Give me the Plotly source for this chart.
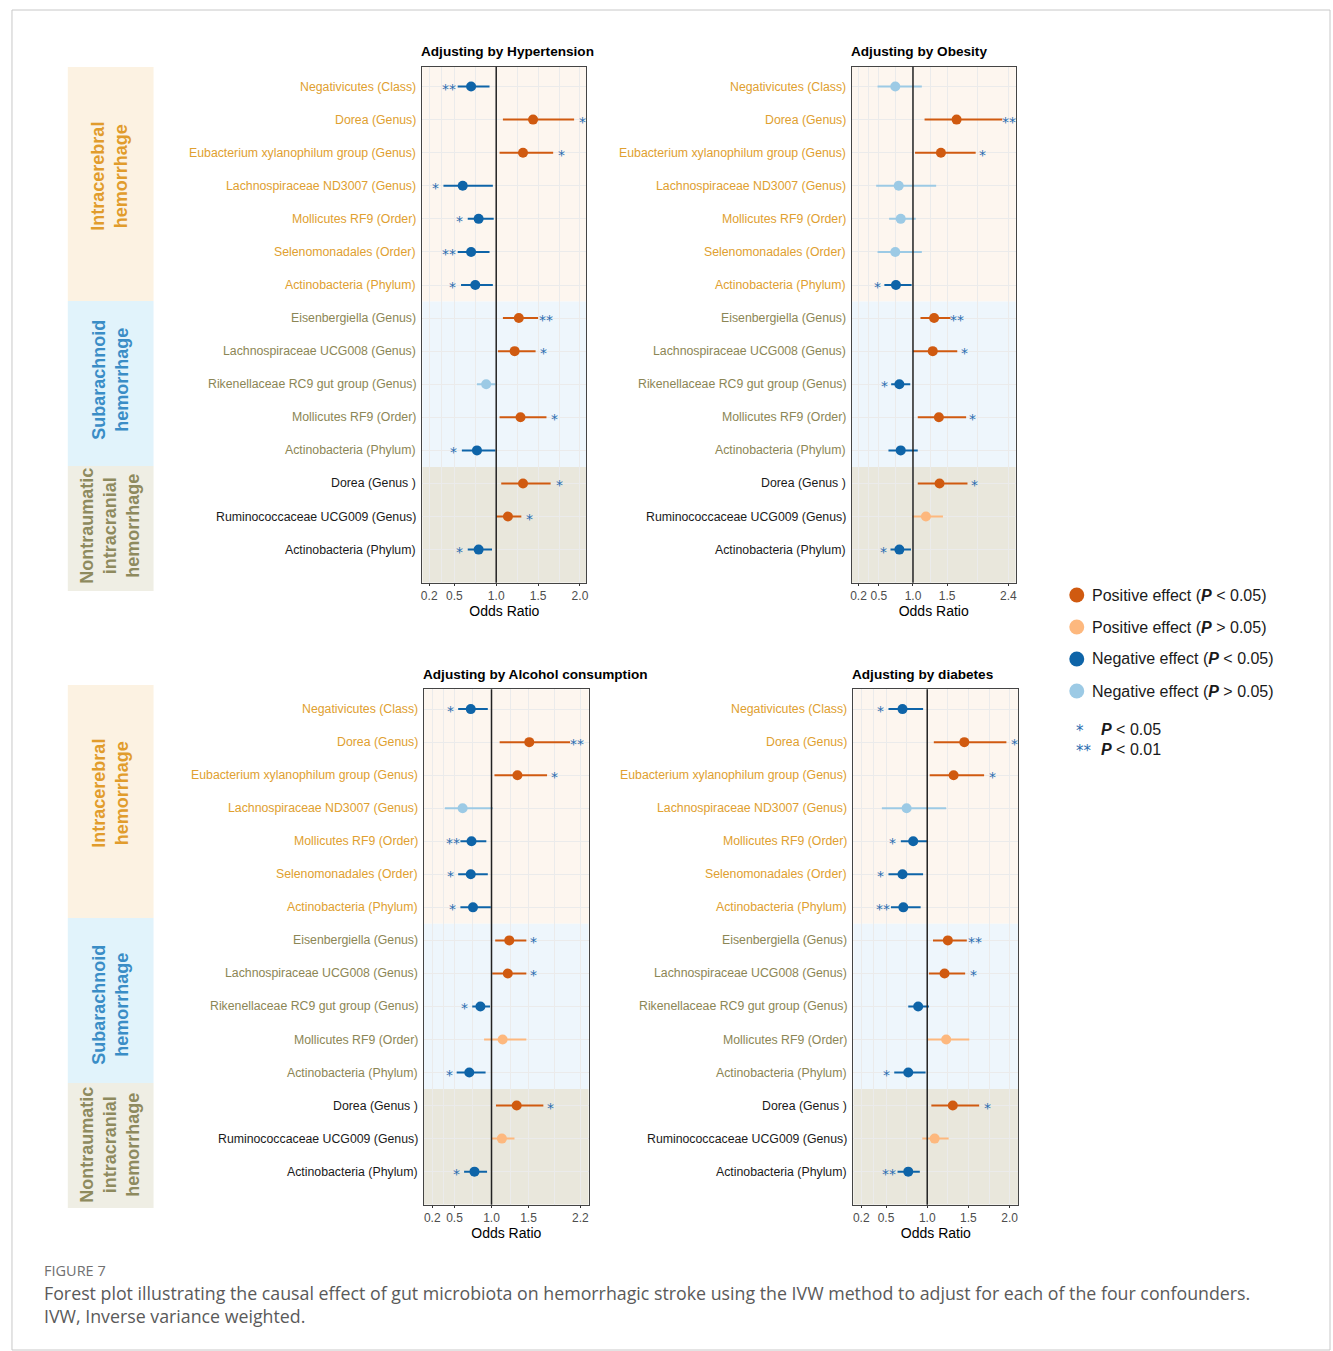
import plotly.graph_objects as go

W, H = 1333, 1351
FONT = "Liberation Sans, Arial, sans-serif"

# ---------------- data ----------------
taxa = [
    "Negativicutes (Class)", "Dorea (Genus)", "Eubacterium xylanophilum group (Genus)",
    "Lachnospiraceae ND3007 (Genus)", "Mollicutes RF9 (Order)", "Selenomonadales (Order)",
    "Actinobacteria (Phylum)",
    "Eisenbergiella (Genus)", "Lachnospiraceae UCG008 (Genus)", "Rikenellaceae RC9 gut group (Genus)",
    "Mollicutes RF9 (Order)", "Actinobacteria (Phylum)",
    "Dorea (Genus )", "Ruminococcaceae UCG009 (Genus)", "Actinobacteria (Phylum)",
]
outcome = ["ICH"] * 7 + ["SAH"] * 5 + ["NICH"] * 3
outcome_names = {
    "ICH": "Intracerebral<br>hemorrhage",
    "SAH": "Subarachnoid<br>hemorrhage",
    "NICH": "Nontraumatic<br>intracranial<br>hemorrhage",
}

hyp_or = [0.70, 1.44, 1.32, 0.60, 0.79, 0.70, 0.75, 1.27, 1.22, 0.88, 1.29, 0.77, 1.32, 1.14, 0.79]
hyp_lo = [0.54, 1.08, 1.04, 0.37, 0.66, 0.54, 0.58, 1.08, 1.02, 0.77, 1.04, 0.59, 1.06, 1.00, 0.66]
hyp_hi = [0.92, 1.93, 1.68, 0.96, 0.97, 0.92, 0.96, 1.50, 1.47, 0.99, 1.60, 0.99, 1.65, 1.30, 0.95]
hyp_stars = ["**", "*", "*", "*", "*", "**", "*", "**", "*", "", "*", "*", "*", "*", "*"]
hyp_sig = [1, 1, 1, 1, 1, 1, 1, 1, 1, 0, 1, 1, 1, 1, 1]

obe_or = [0.74, 1.64, 1.41, 0.79, 0.82, 0.74, 0.75, 1.31, 1.29, 0.80, 1.38, 0.82, 1.39, 1.19, 0.80]
obe_lo = [0.48, 1.17, 1.03, 0.46, 0.65, 0.48, 0.58, 1.11, 1.00, 0.68, 1.07, 0.64, 1.07, 0.99, 0.67]
obe_hi = [1.13, 2.31, 1.92, 1.34, 1.04, 1.13, 0.98, 1.55, 1.65, 0.96, 1.78, 1.07, 1.80, 1.44, 0.97]
obe_stars = ["", "**", "*", "", "", "", "*", "**", "*", "*", "*", "", "*", "", "*"]
obe_sig = [0, 1, 1, 0, 0, 0, 1, 1, 1, 1, 1, 1, 1, 0, 1]

alc_or = [0.72, 1.51, 1.35, 0.61, 0.73, 0.72, 0.75, 1.24, 1.22, 0.85, 1.15, 0.70, 1.34, 1.14, 0.77]
alc_lo = [0.55, 1.11, 1.04, 0.37, 0.58, 0.55, 0.58, 1.05, 1.01, 0.74, 0.90, 0.53, 1.06, 1.00, 0.63]
alc_hi = [0.95, 2.06, 1.75, 1.02, 0.93, 0.95, 0.99, 1.47, 1.47, 0.98, 1.47, 0.92, 1.70, 1.31, 0.94]
alc_stars = ["*", "**", "*", "", "**", "*", "*", "*", "*", "*", "", "*", "*", "", "*"]
alc_sig = [1, 1, 1, 0, 1, 1, 1, 1, 1, 1, 0, 1, 1, 0, 1]

dia_or = [0.70, 1.45, 1.32, 0.75, 0.83, 0.70, 0.71, 1.25, 1.21, 0.89, 1.23, 0.77, 1.31, 1.09, 0.77]
dia_lo = [0.53, 1.08, 1.03, 0.45, 0.68, 0.53, 0.56, 1.07, 1.02, 0.77, 1.00, 0.60, 1.05, 0.94, 0.64]
dia_hi = [0.95, 1.96, 1.69, 1.23, 1.00, 0.95, 0.92, 1.48, 1.46, 1.02, 1.51, 0.98, 1.63, 1.26, 0.91]
dia_stars = ["*", "*", "*", "", "*", "*", "**", "**", "*", "", "", "*", "*", "", "**"]
dia_sig = [1, 1, 1, 0, 1, 1, 1, 1, 1, 1, 0, 1, 1, 0, 1]

panels = [
    dict(title="Adjusting by Hypertension", orv=hyp_or, lo=hyp_lo, hi=hyp_hi, stars=hyp_stars, sig=hyp_sig,
         breaks=[0.2, 0.5, 1.0, 1.5, 2.0], xrange=[0.119, 2.075],
         box=(421.7, 586.0, 66.7, 582.7)),
    dict(title="Adjusting by Obesity", orv=obe_or, lo=obe_lo, hi=obe_hi, stars=obe_stars, sig=obe_sig,
         breaks=[0.2, 0.5, 1.0, 1.5, 2.4], xrange=[0.101, 2.507],
         box=(852.3, 1016.7, 66.7, 582.7)),
    dict(title="Adjusting by Alcohol consumption", orv=alc_or, lo=alc_lo, hi=alc_hi, stars=alc_stars, sig=alc_sig,
         breaks=[0.2, 0.5, 1.0, 1.5, 2.2], xrange=[0.089, 2.31],
         box=(423.3, 588.3, 689.3, 1204.7)),
    dict(title="Adjusting by diabetes", orv=dia_or, lo=dia_lo, hi=dia_hi, stars=dia_stars, sig=dia_sig,
         breaks=[0.2, 0.5, 1.0, 1.5, 2.0], xrange=[0.105, 2.104],
         box=(854.0, 1019.3, 689.3, 1204.7)),
]

# ---------------- styles ----------------
effect_colors = {
    (True, True): "#D05A10",    # positive, P < 0.05
    (True, False): "#FDB87E",   # positive, P > 0.05
    (False, True): "#0E64A8",   # negative, P < 0.05
    (False, False): "#9CCAE5",  # negative, P > 0.05
}
band_colors = {"ICH": "#FDF6EF", "SAH": "#EEF6FC", "NICH": "#E9E7DC"}
strip_colors = {"ICH": "#FCF2E2", "SAH": "#E1F3FB", "NICH": "#EFEEE4"}
strip_text = {"ICH": "#E19C2C", "SAH": "#3A8DC6", "NICH": "#8E8A5E"}
label_colors = {"ICH": "#E0A030", "SAH": "#8C8655", "NICH": "#1A1A1A"}
STAR = "#2B6CB0"


def px(x):
    return x / W


def py(y):
    return 1 - y / H


fig = go.Figure()
shapes, annotations = [], []
layout_axes = {}
n = len(taxa)
rows = list(range(1, n + 1))

for k, p in enumerate(panels, start=1):
    sfx = "" if k == 1 else str(k)
    xa, ya = f"x{sfx}", f"y{sfx}"
    xl, xr, yt, yb = p["box"]
    mids = [(a + b) / 2 for a, b in zip(p["breaks"][:-1], p["breaks"][1:])]
    layout_axes[f"xaxis{sfx}"] = dict(
        domain=[px(xl), px(xr)], anchor=ya, range=p["xrange"],
        tickvals=p["breaks"], ticktext=[f"{b:.1f}" for b in p["breaks"]],
        ticks="outside", ticklen=2, tickcolor="#333333",
        tickfont=dict(family=FONT, size=12, color="#4D4D4D"),
        showgrid=True, gridcolor="#EBEBEB", gridwidth=1,
        minor=dict(tickvals=mids, showgrid=True, gridcolor="#EBEBEB", gridwidth=1, ticks=""),
        zeroline=False, showline=True, mirror=True, linecolor="#444444", linewidth=1,
        title=dict(text="Odds Ratio", font=dict(family=FONT, size=14, color="#000000"), standoff=1),
        fixedrange=True,
    )
    layout_axes[f"yaxis{sfx}"] = dict(
        domain=[py(yb), py(yt)], anchor=xa, range=[16.0, 0.4],
        tickvals=rows, showticklabels=False, ticks="",
        showgrid=True, gridcolor="#EBEBEB", gridwidth=1, zeroline=False,
        showline=True, mirror=True, linecolor="#444444", linewidth=1, fixedrange=True,
    )

    # outcome background bands
    starts = [0.4, 7.5, 12.5]
    ends = [7.5, 12.5, 16.0]
    for key, y0, y1 in zip(["ICH", "SAH", "NICH"], starts, ends):
        shapes.append(dict(type="rect", xref=f"{xa} domain", yref=ya, x0=0, x1=1, y0=y0, y1=y1,
                           fillcolor=band_colors[key], line=dict(width=0), layer="below"))
    # null line
    shapes.append(dict(type="line", xref=xa, yref=f"{ya} domain", x0=1, x1=1, y0=0, y1=1,
                       line=dict(color="#222222", width=1.5), layer="above"))

    # points with confidence intervals, grouped by effect class
    for (pos, sig), col in effect_colors.items():
        idx = [i for i in range(n) if (p["orv"][i] > 1) == pos and bool(p["sig"][i]) == sig]
        if not idx:
            continue
        fig.add_trace(go.Scatter(
            x=[p["orv"][i] for i in idx], y=[rows[i] for i in idx],
            xaxis=xa, yaxis=ya, mode="markers", showlegend=False,
            marker=dict(color=col, size=10, line=dict(width=0)),
            error_x=dict(type="data", symmetric=False,
                         array=[p["hi"][i] - p["orv"][i] for i in idx],
                         arrayminus=[p["orv"][i] - p["lo"][i] for i in idx],
                         color=col, thickness=2, width=0),
        ))

    # significance stars beside the interval
    for i in range(n):
        s = p["stars"][i]
        if not s:
            continue
        sx = p["hi"][i] + 0.1 if p["orv"][i] > 1 else p["lo"][i] - 0.1
        annotations.append(dict(x=sx, y=rows[i], xref=xa, yref=ya, text=s, showarrow=False,
                                xanchor="center", yanchor="middle", yshift=-2,
                                font=dict(family="DejaVu Sans, sans-serif", size=14, color=STAR)))

    # taxon labels
    for i in range(n):
        annotations.append(dict(x=px(xl - 4), y=rows[i], xref="paper", yref=ya, text=taxa[i],
                                showarrow=False, xanchor="right", yanchor="middle",
                                font=dict(family=FONT, size=12.3, color=label_colors[outcome[i]])))

    # panel title
    annotations.append(dict(x=px(xl - 3), y=py(yt - 15), xref="paper", yref="paper",
                            text=f"<b>{p['title']}</b>", showarrow=False,
                            xanchor="left", yanchor="middle",
                            font=dict(family=FONT, size=13.6, color="#000000")))

# outcome strips on the left
strip_blocks = [
    ("ICH", 67, 301, 176), ("SAH", 301, 466, 380), ("NICH", 466, 591, 526),
    ("ICH", 685, 918, 793), ("SAH", 918, 1083, 1005), ("NICH", 1083, 1208, 1145),
]
for key, y0, y1, yc in strip_blocks:
    shapes.append(dict(type="rect", xref="paper", yref="paper", x0=px(66), x1=px(152),
                       y0=py(y1), y1=py(y0), fillcolor=strip_colors[key], line=dict(width=0)))
    annotations.append(dict(x=px(108), y=py(yc), xref="paper", yref="paper",
                            text=f"<b>{outcome_names[key]}</b>", textangle=-90, showarrow=False,
                            xanchor="center", yanchor="middle",
                            font=dict(family=FONT, size=18, color=strip_text[key])))

# legend
legend_items = [
    ((True, True), "Positive effect (<b><i>P</i></b> &lt; 0.05)", 595),
    ((True, False), "Positive effect (<b><i>P</i></b> &gt; 0.05)", 627),
    ((False, True), "Negative effect (<b><i>P</i></b> &lt; 0.05)", 659),
    ((False, False), "Negative effect (<b><i>P</i></b> &gt; 0.05)", 691),
]
for key, txt, yc in legend_items:
    shapes.append(dict(type="circle", xref="paper", yref="paper",
                       x0=px(1070.5), x1=px(1085.5), y0=py(yc + 7.5), y1=py(yc - 7.5),
                       fillcolor=effect_colors[key], line=dict(width=0)))
    annotations.append(dict(x=px(1091), y=py(yc), xref="paper", yref="paper", text=txt,
                            showarrow=False, xanchor="left", yanchor="middle",
                            font=dict(family=FONT, size=16, color="#1A1A1A")))
for s, txt, yc in [("*", "<b><i>P</i></b> &lt; 0.05", 729), ("**", "<b><i>P</i></b> &lt; 0.01", 749)]:
    annotations.append(dict(x=px(1075), y=py(yc), xref="paper", yref="paper", text=s,
                            showarrow=False, xanchor="left", yanchor="middle", yshift=-2,
                            font=dict(family="DejaVu Sans, sans-serif", size=15, color=STAR)))
    annotations.append(dict(x=px(1100), y=py(yc), xref="paper", yref="paper", text=txt,
                            showarrow=False, xanchor="left", yanchor="middle",
                            font=dict(family=FONT, size=16, color="#1A1A1A")))

# caption
annotations.append(dict(x=px(40), y=py(1270), xref="paper", yref="paper", text="FIGURE 7",
                        showarrow=False, xanchor="left", yanchor="middle",
                        font=dict(family="Open Sans, sans-serif", size=14.5, color="#707070")))
annotations.append(dict(
    x=px(40), y=py(1304), xref="paper", yref="paper",
    text="Forest plot illustrating the causal effect of gut microbiota on hemorrhagic stroke using the IVW method to adjust for each of the four confounders.<br>IVW, Inverse variance weighted.",
    showarrow=False, xanchor="left", yanchor="middle", align="left",
    font=dict(family="Open Sans, sans-serif", size=17.8, color="#5A5A5A")))

# outer frame
shapes.append(dict(type="rect", xref="paper", yref="paper", x0=px(10), x1=px(1332),
                   y0=py(1350), y1=py(10), line=dict(color="#C8C8C8", width=1),
                   fillcolor="rgba(0,0,0,0)"))

fig.update_layout(
    width=W, height=H, margin=dict(l=0, r=0, t=0, b=0),
    paper_bgcolor="#FFFFFF", plot_bgcolor="rgba(0,0,0,0)",
    showlegend=False, shapes=shapes, annotations=annotations,
    **layout_axes,
)

fig.write_html("out.html")
